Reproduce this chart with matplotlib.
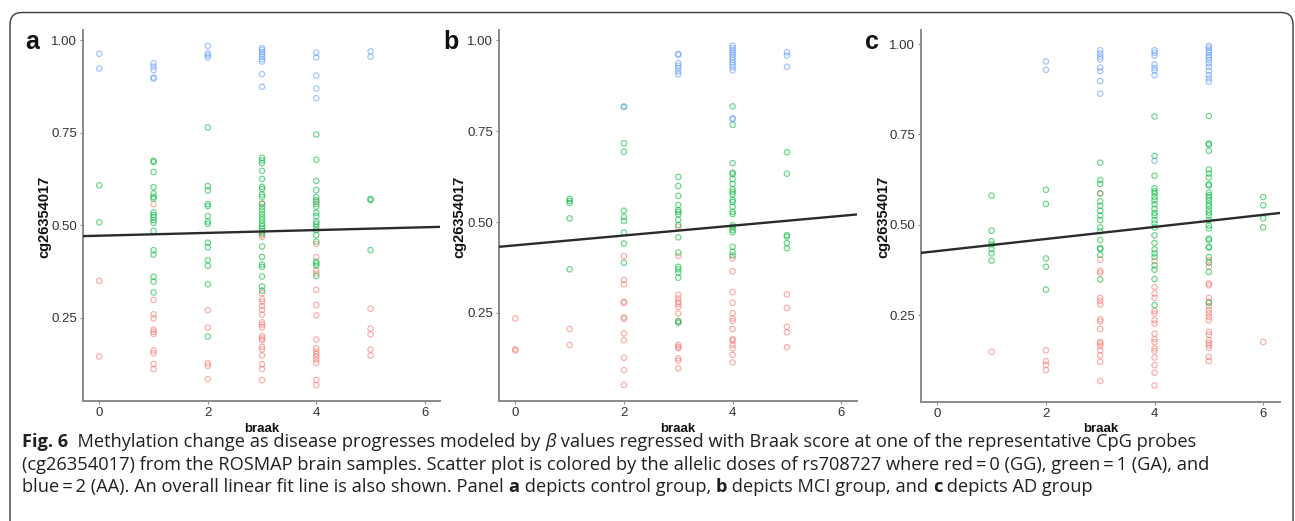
import matplotlib
matplotlib.use("Agg")
import matplotlib.pyplot as plt
from matplotlib.patches import FancyBboxPatch
from matplotlib.transforms import IdentityTransform
from matplotlib.font_manager import FontProperties

# ---------------------------------------------------------------------------
# Methylation beta values of cg26354017 by Braak stage, split by rs708727 dose
# (GG = 0, GA = 1, AA = 2), one set per diagnosis group.
# ---------------------------------------------------------------------------
ctrl_GG = {
    0: [0.350, 0.146],
    1: [0.557, 0.299, 0.260, 0.249, 0.219, 0.213, 0.207, 0.162, 0.155, 0.126, 0.112],
    2: [0.271, 0.224, 0.128, 0.121, 0.085],
    3: [0.559, 0.474, 0.469, 0.317, 0.301, 0.294, 0.282, 0.272, 0.259, 0.238, 0.232,
        0.225, 0.201, 0.195, 0.190, 0.172, 0.165, 0.149, 0.125, 0.112, 0.082],
    4: [0.564, 0.450, 0.414, 0.379, 0.370, 0.326, 0.285, 0.257, 0.192, 0.168, 0.159,
        0.153, 0.146, 0.138, 0.129, 0.083, 0.069],
    5: [0.275, 0.221, 0.206, 0.165, 0.149],
}
ctrl_GA = {
    0: [0.608, 0.508],
    1: [0.674, 0.671, 0.644, 0.603, 0.586, 0.577, 0.572, 0.535, 0.528, 0.522, 0.514,
        0.507, 0.485, 0.433, 0.421, 0.361, 0.348, 0.319],
    2: [0.764, 0.606, 0.594, 0.557, 0.552, 0.525, 0.510, 0.504, 0.453, 0.441, 0.406,
        0.391, 0.341, 0.200],
    3: [0.682, 0.675, 0.668, 0.647, 0.625, 0.604, 0.598, 0.583, 0.577, 0.558, 0.549,
        0.540, 0.531, 0.522, 0.514, 0.505, 0.498, 0.491, 0.484, 0.478, 0.443, 0.415,
        0.394, 0.388, 0.362, 0.335, 0.324],
    4: [0.745, 0.677, 0.620, 0.595, 0.576, 0.568, 0.558, 0.550, 0.534, 0.525, 0.510,
        0.504, 0.496, 0.487, 0.474, 0.456, 0.402, 0.397, 0.391, 0.363],
    5: [0.571, 0.568, 0.433],
}
ctrl_AA = {
    0: [0.963, 0.923],
    1: [0.937, 0.928, 0.919, 0.899, 0.896],
    2: [0.984, 0.964, 0.959, 0.953],
    3: [0.978, 0.973, 0.967, 0.961, 0.955, 0.948, 0.942, 0.908, 0.874],
    4: [0.966, 0.953, 0.904, 0.869, 0.843],
    5: [0.969, 0.955],
}

mci_GG = {
    0: [0.235, 0.150, 0.147],
    1: [0.206, 0.162],
    2: [0.406, 0.341, 0.329, 0.281, 0.278, 0.238, 0.234, 0.194, 0.175, 0.127, 0.093, 0.052],
    3: [0.487, 0.407, 0.300, 0.290, 0.281, 0.275, 0.267, 0.249, 0.226, 0.162, 0.157,
        0.153, 0.125, 0.119, 0.098],
    4: [0.400, 0.365, 0.307, 0.278, 0.249, 0.235, 0.228, 0.206, 0.178, 0.174, 0.162,
        0.153, 0.135, 0.114],
    5: [0.301, 0.264, 0.212, 0.197, 0.156],
}
mci_GA = {
    1: [0.564, 0.558, 0.552, 0.510, 0.370],
    2: [0.817, 0.717, 0.693, 0.531, 0.514, 0.503, 0.471, 0.441, 0.388],
    3: [0.624, 0.599, 0.572, 0.547, 0.533, 0.528, 0.521, 0.506, 0.492, 0.458, 0.416,
        0.377, 0.370, 0.361, 0.347, 0.228, 0.223],
    4: [0.818, 0.767, 0.662, 0.636, 0.632, 0.618, 0.605, 0.590, 0.583, 0.576, 0.561,
        0.555, 0.542, 0.528, 0.522, 0.491, 0.486, 0.478, 0.472, 0.432, 0.418, 0.408],
    5: [0.692, 0.633, 0.464, 0.460, 0.442, 0.428],
}
mci_AA = {
    2: [0.817],
    3: [0.962, 0.960, 0.937, 0.930, 0.923, 0.914, 0.906],
    4: [0.985, 0.978, 0.972, 0.966, 0.960, 0.953, 0.946, 0.939, 0.932, 0.925, 0.917,
        0.785, 0.783],
    5: [0.967, 0.958, 0.927],
}

ad_GG = {
    1: [0.149],
    2: [0.153, 0.123, 0.113, 0.098],
    3: [0.587, 0.404, 0.373, 0.367, 0.298, 0.289, 0.280, 0.239, 0.233, 0.212, 0.176,
        0.172, 0.165, 0.153, 0.139, 0.121, 0.068],
    4: [0.400, 0.328, 0.310, 0.298, 0.262, 0.255, 0.236, 0.227, 0.199, 0.184, 0.176,
        0.158, 0.151, 0.133, 0.112, 0.091, 0.056],
    5: [0.402, 0.384, 0.338, 0.333, 0.298, 0.287, 0.275, 0.264, 0.255, 0.245, 0.236,
        0.204, 0.196, 0.181, 0.173, 0.167, 0.160, 0.135, 0.123],
    6: [0.176],
}
ad_GA = {
    1: [0.581, 0.484, 0.455, 0.446, 0.434, 0.421, 0.401],
    2: [0.597, 0.558, 0.407, 0.384, 0.321],
    3: [0.672, 0.624, 0.613, 0.587, 0.565, 0.553, 0.539, 0.526, 0.513, 0.493, 0.482,
        0.458, 0.436, 0.433, 0.417, 0.349],
    4: [0.800, 0.691, 0.636, 0.601, 0.593, 0.587, 0.577, 0.568, 0.557, 0.544, 0.533,
        0.526, 0.513, 0.504, 0.493, 0.471, 0.450, 0.432, 0.421, 0.411, 0.388, 0.376,
        0.350, 0.278],
    5: [0.801, 0.725, 0.722, 0.705, 0.653, 0.642, 0.631, 0.612, 0.609, 0.589, 0.582,
        0.576, 0.568, 0.559, 0.552, 0.542, 0.534, 0.526, 0.513, 0.498, 0.490, 0.462,
        0.458, 0.439, 0.437, 0.411, 0.395, 0.370, 0.284],
    6: [0.577, 0.554, 0.518, 0.493],
}
ad_AA = {
    2: [0.952, 0.929],
    3: [0.983, 0.974, 0.965, 0.958, 0.935, 0.925, 0.898, 0.863],
    4: [0.983, 0.976, 0.968, 0.944, 0.934, 0.927, 0.914, 0.677],
    5: [0.995, 0.990, 0.983, 0.977, 0.969, 0.963, 0.956, 0.947, 0.937, 0.926, 0.914,
        0.905, 0.896],
}

# overall linear fit (intercept, slope) per group
ctrl_fit = (0.472, 0.0038)
mci_fit = (0.436, 0.0135)
ad_fit = (0.4275, 0.0167)

panel_letters = ["a", "b", "c"]
x_ticks = [0, 2, 4, 6]
y_ticks = [0.25, 0.50, 0.75, 1.00]
y_tick_labels = ["0.25", "0.50", "0.75", "1.00"]
x_title = "braak"
y_title = "cg26354017"

dose_colors = {"GG": "#F8766D", "GA": "#00BA38", "AA": "#619CFF"}

# ---------------------------------------------------------------------------
W, H = 1295, 521
fig = plt.figure(figsize=(W / 100, H / 100), dpi=100)
fig.patch.set_facecolor("white")
plt.rcParams["font.family"] = ["Liberation Sans", "DejaVu Sans"]


def px_rect(left, top, right, bottom):
    return [left / W, 1 - bottom / H, (right - left) / W, (bottom - top) / H]


panels = [
    dict(groups=[("GG", ctrl_GG), ("GA", ctrl_GA), ("AA", ctrl_AA)], fit=ctrl_fit,
         rect=(83, 30, 440, 401), xlim=(-0.3, 6.28), ylim=(0.026, 1.027),
         letter_x=25, ylab_x=44),
    dict(groups=[("GG", mci_GG), ("GA", mci_GA), ("AA", mci_AA)], fit=mci_fit,
         rect=(499, 30, 857, 401), xlim=(-0.3, 6.29), ylim=(0.008, 1.028),
         letter_x=443, ylab_x=459),
    dict(groups=[("GG", ad_GG), ("GA", ad_GA), ("AA", ad_AA)], fit=ad_fit,
         rect=(921, 30, 1280, 402), xlim=(-0.3, 6.31), ylim=(0.010, 1.039),
         letter_x=865, ylab_x=883),
]

axis_gray = "#8a8a8a"
for letter, p in zip(panel_letters, panels):
    ax = fig.add_axes(px_rect(*p["rect"]))
    ax.set_facecolor("white")
    for dose, stages in p["groups"]:
        xs, ys = [], []
        for stage, vals in stages.items():
            xs.extend([stage] * len(vals))
            ys.extend(vals)
        ax.scatter(xs, ys, s=15, facecolors="none", edgecolors=dose_colors[dose],
                   linewidths=0.85, alpha=0.6, zorder=2)
    b0, b1 = p["fit"]
    x0, x1 = p["xlim"]
    ax.plot([x0, x1], [b0 + b1 * x0, b0 + b1 * x1], color="#2b2b2b", lw=1.7,
            solid_capstyle="butt", zorder=3)
    ax.set_xlim(p["xlim"])
    ax.set_ylim(p["ylim"])
    ax.set_xticks(x_ticks)
    ax.set_yticks(y_ticks)
    ax.set_yticklabels(y_tick_labels)
    for side in ("top", "right"):
        ax.spines[side].set_visible(False)
    for side in ("left", "bottom"):
        ax.spines[side].set_color(axis_gray)
        ax.spines[side].set_linewidth(1.4)
    ax.tick_params(direction="out", length=2.5, width=0.8, color=axis_gray,
                   labelcolor="#333333", labelsize=9.5, pad=1.8)

    left, top, right, bottom = p["rect"]
    fig.text((left + right) / 2 / W, 1 - 432 / H, x_title, ha="center",
             va="baseline", fontsize=9.5, fontweight="bold", color="#111111")
    fig.text(p["ylab_x"] / W, 1 - 217 / H, y_title, rotation=90, ha="center",
             va="center", fontsize=10.5, fontweight="bold", color="#111111")
    fig.text(p["letter_x"] / W, 1 - 49 / H, letter, ha="left", va="baseline",
             fontsize=18, fontweight="bold", color="#111111")

# rounded frame around the whole figure (runs off the lower edge)
frame = FancyBboxPatch((10, -30), 1283, H - 12.5 + 30,
                       boxstyle="round,pad=0,rounding_size=12",
                       transform=IdentityTransform(), facecolor="none",
                       edgecolor="#3a3a3a", linewidth=1.0, clip_on=False)
fig.patches.append(frame)

# ---------------------------------------------------------------------------
# Caption with mixed bold / italic runs
caption_lines = [
    [("Fig. 6", "bold", "normal"), ("  Methylation change as disease progresses modeled by ", "normal", "normal"),
     ("\u03b2", "normal", "italic"),
     (" values regressed with Braak score at one of the representative CpG probes", "normal", "normal")],
    [("(cg26354017) from the ROSMAP brain samples. Scatter plot is colored by the allelic doses of "
      "rs708727 where red\u2009=\u20090 (GG), green\u2009=\u20091 (GA), and", "normal", "normal")],
    [("blue\u2009=\u20092 (AA). An overall linear fit line is also shown. Panel ", "normal", "normal"),
     ("a", "bold", "normal"), (" depicts control group, ", "normal", "normal"),
     ("b", "bold", "normal"), (" depicts MCI group, and ", "normal", "normal"),
     ("c", "bold", "normal"), (" depicts AD group", "normal", "normal")],
]
caption_family = ["Open Sans", "DejaVu Sans"]
caption_baselines = [447, 469.5, 492]
caption_left = 22
line1_target_width = 1177

renderer = fig.canvas.get_renderer()


def run_width(s, size, weight, style):
    fp = FontProperties(family=caption_family, size=size, weight=weight, style=style)
    w_full, _, _ = renderer.get_text_width_height_descent("|" + s + "|", fp, ismath=False)
    w_bars, _, _ = renderer.get_text_width_height_descent("||", fp, ismath=False)
    return (w_full - w_bars)


base = 11.0
w1 = sum(run_width(s, base, wt, st) for s, wt, st in caption_lines[0])
cap_size = base * line1_target_width / w1

for runs, yb in zip(caption_lines, caption_baselines):
    x = caption_left
    for s, wt, st in runs:
        fig.text(x / W, 1 - yb / H, s, ha="left", va="baseline", fontsize=cap_size,
                 fontweight=wt, fontstyle=st, family=caption_family, color="#231f20")
        x += run_width(s, cap_size, wt, st)

fig.savefig("out.png", dpi=100, facecolor="white")
